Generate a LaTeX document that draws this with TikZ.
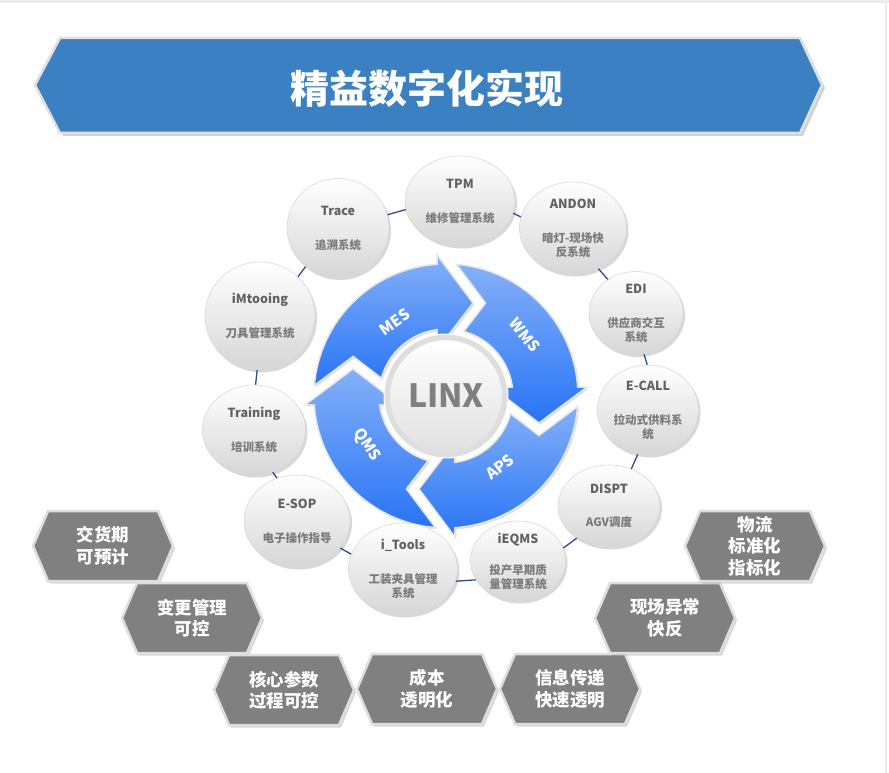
\documentclass[tikz,border=0pt]{standalone}
\usepackage{fontspec}
\setmainfont{Noto Sans CJK SC}
\usetikzlibrary{shapes.geometric,shadows,calc}
\definecolor{bannerblue}{RGB}{58,128,194}
\definecolor{hexgray}{RGB}{128,128,128}
\definecolor{linkblue}{RGB}{46,77,140}
\definecolor{arrlight}{RGB}{132,176,248}
\definecolor{arrdark}{RGB}{40,116,246}
\newcommand\bt[1]{{\fontsize{12.5}{14}\selectfont\color{black!62}#1}}
\newcommand\ringarrow[1]{%
\path[ringarr] ($(C)+({#1+175.4}:132)$) arc[start angle={#1+175.4}, end angle={#1+93.9}, radius=132]
 -- ($(C)+({#1+93.65}:141.3)$) -- ($(C)+({#1+73.8}:96.8)$) -- ($(C)+({#1+101.1}:46.9)$)
 -- ($(C)+({#1+97.7}:67)$) arc[start angle={#1+97.7}, end angle={#1+164.6}, radius=67]
 -- ($(C)+({#1+156.9}:101)$) -- cycle;}
\newcommand\hexbox[4]{%
\begin{scope}[shift={(#2,-#3)}]
\path[hexshape] (-70,0) -- (-55,35) -- (55,35) -- (70,0) -- (55,-35) -- (-55,-35) -- cycle;
\node[hextxt] (#1) at (0,0) {#4};
\end{scope}}
\begin{document}
\begin{tikzpicture}[x=1pt,y=1pt,
  banner/.style={fill=bannerblue, draw=black!12, line width=2.5pt, drop shadow={shadow xshift=3pt, shadow yshift=-3pt, opacity=.35}},
  titletxt/.style={text=white, font=\fontsize{39}{40}\selectfont\bfseries, inner sep=0pt},
  hexshape/.style={fill=hexgray, draw=black!13, line width=2.5pt, drop shadow={shadow xshift=2pt, shadow yshift=-2.5pt, opacity=.3}},
  hextxt/.style={text=white, font=\fontsize{17.5}{21.5}\selectfont\bfseries, align=center, inner sep=0pt},
  bub/.style={ellipse, top color=white, bottom color=black!16, draw=black!15, line width=0.6pt,
    drop shadow={shadow xshift=2pt, shadow yshift=-2.5pt, opacity=.3}, inner sep=0pt, align=center,
    text=black!52, font=\fontsize{11.5}{14}\selectfont\bfseries},
  link/.style={draw=linkblue, line width=1.3pt},
  ringarr/.style={top color=arrlight, bottom color=arrdark, draw=black!10, line width=1.5pt,
    drop shadow={shadow xshift=1.5pt, shadow yshift=-1.5pt, opacity=.25}},
  rlabel/.style={text=white, font=\fontsize{15.5}{15.5}\selectfont\bfseries, inner sep=0pt}
]
\useasboundingbox (0,0) rectangle (889,-773);
\fill[white] (0,0) rectangle (889,-773);
\fill[black!8] (0,0) rectangle (889,-3);
\fill[black!8] (885,0) rectangle (887,-773);

% title banner
\path[banner] (35,-85) -- (60,-38) -- (800,-38) -- (822,-85) -- (800,-133) -- (60,-133) -- cycle;
\node[titletxt] (title) at (427,-88) {精益数字化实现};

% ring of arrows
\coordinate (C) at (446,-396);
\ringarrow{0}
\ringarrow{-90}
\ringarrow{-180}
\ringarrow{-270}
\node[circle, minimum size=124pt, fill=black!13, draw=white, line width=1pt] (ring) at (C) {};
\node[circle, minimum size=112pt, top color=white, bottom color=black!12, draw=black!10, text=black!50,
  font=\fontsize{32}{32}\selectfont\bfseries] (linx) at (C) {LINX};
\node[rlabel, rotate=35] (mes) at (395,-322) {MES};
\node[rlabel, rotate=-52] (wms) at (525,-335) {WMS};
\node[rlabel, rotate=37] (aps) at (500,-467) {APS};
\node[rlabel, rotate=-58] (qms) at (367,-445) {QMS};

% bubbles
\node[bub, minimum width=110pt, minimum height=90pt] (tpm) at (460,-201) {\bt{TPM}\\[20pt]维修管理系统};
\node[bub, minimum width=102pt, minimum height=99pt] (trace) at (338,-228) {\bt{Trace}\\[20pt]追溯系统};
\node[bub, minimum width=110pt, minimum height=108pt] (imt) at (260,-316) {\bt{iMtooing}\\[20pt]刀具管理系统};
\node[bub, minimum width=107pt, minimum height=92pt] (andon) at (573,-228) {\bt{ANDON}\\[20pt]暗灯-现场快\\反系统};
\node[bub, minimum width=94pt, minimum height=83pt] (edi) at (636,-313) {\bt{EDI}\\[20pt]供应商交互\\系统};
\node[bub, minimum width=101pt, minimum height=90pt] (ecall) at (648,-410) {\bt{E-CALL}\\[20pt]拉动式供料系\\统};
\node[bub, minimum width=103pt, minimum height=90pt] (training) at (254,-430) {\bt{Training}\\[20pt]培训系统};
\node[bub, minimum width=106pt, minimum height=92pt] (esop) at (297,-521) {\bt{E-SOP}\\[20pt]电子操作指导};
\node[bub, minimum width=109pt, minimum height=92pt] (itools) at (403,-569) {\bt{i\_Tools}\\[20pt]工装夹具管理\\系统};
\node[bub, minimum width=95pt, minimum height=72pt] (ieqms) at (518,-561) {\bt{iEQMS}\\[17pt]投产早期质\\量管理系统};
\node[bub, minimum width=102pt, minimum height=82pt] (dispt) at (609,-506) {\bt{DISPT}\\[19pt]AGV调度};

% connectors
\draw[link] (trace.15) -- (tpm.189);
\draw[link] (trace.230) -- (imt.46);
\draw[link] (imt.267) -- (training.88);
\draw[link] (training.294) -- (esop.115);
\draw[link] (esop.328) -- (itools.164);
\draw[link] (itools.347) -- (ieqms.204);
\draw[link] (ieqms.16) -- (dispt.225);
\draw[link] (dispt.59) -- (ecall.257);
\draw[link] (ecall.91) -- (edi.281);
\draw[link] (edi.130) -- (andon.302);
\draw[link] (andon.168) -- (tpm.347);

% hexagons
\hexbox{h1}{103}{546}{交货期\\可预计}
\hexbox{h2}{192}{618}{变更管理\\可控}
\hexbox{h3}{284}{690}{核心参数\\过程可控}
\hexbox{h4}{427}{689}{成本\\透明化}
\hexbox{h5}{570}{689}{信息传递\\快速透明}
\hexbox{h6}{665}{618}{现场异常\\快反}
\hexbox{h7}{755}{546}{物流\\标准化\\指标化}
\end{tikzpicture}
\end{document}
